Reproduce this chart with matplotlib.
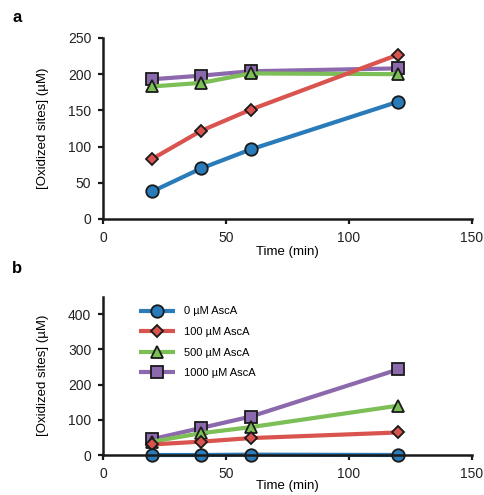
import matplotlib
matplotlib.use("Agg")
import matplotlib.pyplot as plt

plt.rcParams['font.family'] = ['Liberation Sans', 'DejaVu Sans']

time_min = [20, 40, 60, 120]
labels = ['0 µM AscA', '100 µM AscA', '500 µM AscA', '1000 µM AscA']
colors = ['#2a7bba', '#d9534f', '#7cbf56', '#8c68ad']
markers = ['o', 'D', '^', 's']
msizes = [9, 6.5, 8.5, 8.5]

# panel a
a_vals = [
    [38, 70, 96, 162],
    [83, 122, 151, 227],
    [183, 188, 201, 200],
    [193, 198, 204, 208],
]
# panel b
b_vals = [
    [0, 0, 1, 0],
    [30, 38, 48, 64],
    [38, 62, 79, 140],
    [45, 77, 109, 243],
]

fig = plt.figure(figsize=(4.84, 4.95), dpi=100)
ax_a = fig.add_axes([0.2128, 0.5576, 0.7624, 0.3657])
ax_b = fig.add_axes([0.2128, 0.0808, 0.7624, 0.3202])


def style(ax, ylim, yticks):
    ax.set_xlim(0, 150)
    ax.set_ylim(*ylim)
    ax.set_xticks([0, 50, 100, 150])
    ax.set_yticks(yticks)
    for s in ['top', 'right']:
        ax.spines[s].set_visible(False)
    for s in ['left', 'bottom']:
        ax.spines[s].set_linewidth(1.8)
        ax.spines[s].set_color('#1a1a1a')
    ax.tick_params(width=1.6, length=3.5, labelsize=10, pad=5, color='#1a1a1a', labelcolor='#222222')
    ax.set_xlabel('Time (min)', fontsize=9.5)
    ax.set_ylabel('[Oxidized sites] (µM)', fontsize=9.5)


handles = {}
for ax, vals in [(ax_a, a_vals), (ax_b, b_vals)]:
    # drawn from last to first so the 0 µM series sits on top
    for i in range(3, -1, -1):
        ln, = ax.plot(time_min, vals[i], color=colors[i], lw=3, marker=markers[i],
                      ms=msizes[i], mfc=colors[i], mec='#1a1a1a', mew=1.3,
                      label=labels[i], clip_on=False, solid_capstyle='butt')
        handles[i] = ln

style(ax_a, (0, 250), [0, 50, 100, 150, 200, 250])
style(ax_b, (0, 450), [0, 100, 200, 300, 400])
ax_a.xaxis.set_label_coords(0.5, -0.148)
ax_b.xaxis.set_label_coords(0.5, -0.158)
ax_a.yaxis.set_label_coords(-0.147, 0.5)
ax_b.yaxis.set_label_coords(-0.147, 0.5)

ax_b.legend([handles[i] for i in range(4)], labels, loc='upper left',
            bbox_to_anchor=(0.085, 0.965), frameon=False, fontsize=8,
            handlelength=3.3, handletextpad=0.8, labelspacing=0.95,
            borderaxespad=0)

fig.text(0.025, 0.965, 'a', fontsize=12, fontweight='bold', va='center')
fig.text(0.025, 0.458, 'b', fontsize=12, fontweight='bold', va='center')

fig.savefig('out.png', dpi=100)
